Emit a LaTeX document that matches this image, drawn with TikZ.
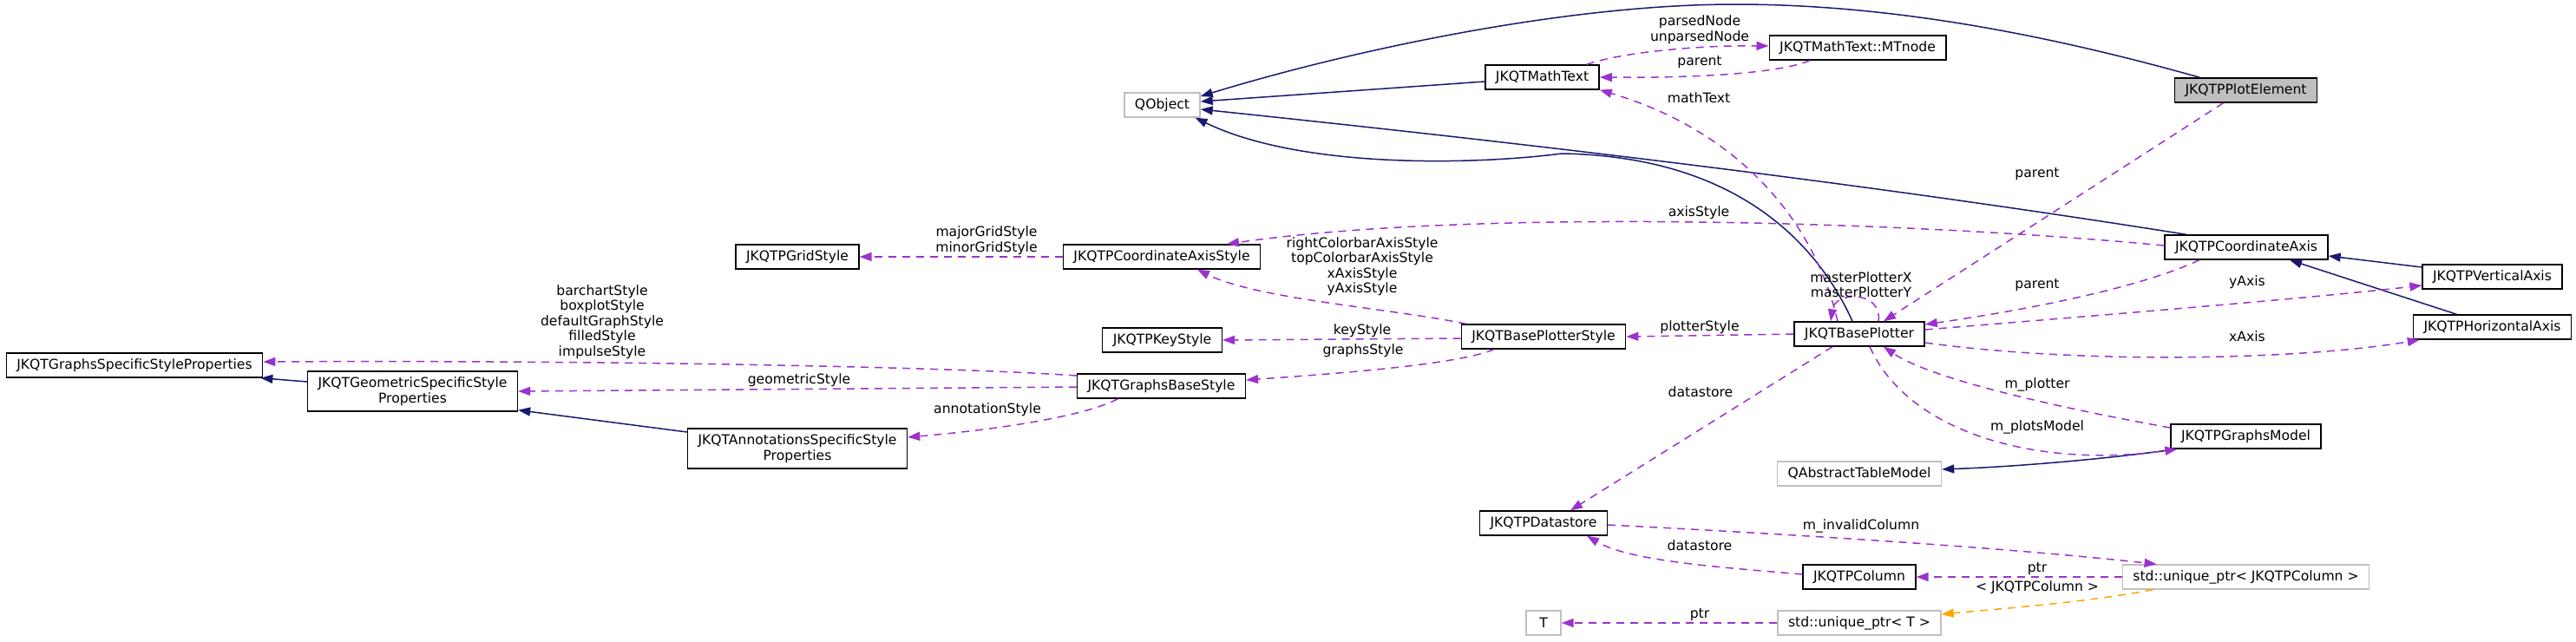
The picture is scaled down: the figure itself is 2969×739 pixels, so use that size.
\documentclass[tikz,border=0pt]{standalone}
\usepackage{fontspec}
\setmainfont{DejaVu Sans}
\usepackage{xcolor}
\usepackage{tikz}
\usetikzlibrary{arrows.meta}

\definecolor{inhcol}{HTML}{191970}
\definecolor{usecol}{HTML}{9A32CD}
\definecolor{tplcol}{HTML}{FFA500}
\definecolor{extcol}{HTML}{BFBFBF}

\tikzset{
  cls/.style={draw=black, line width=1.4pt, fill=white, inner xsep=12pt, inner ysep=0pt,
    minimum height=28pt, align=center, font=\fontsize{15.6}{17.5}\selectfont},
  extcls/.style={cls, draw=extcol},
  curcls/.style={cls, fill=extcol},
  lbl/.style={inner sep=0pt, align=center, font=\fontsize{15.6}{17.5}\selectfont},
  inh/.style={draw=inhcol, line width=1.5pt, -{Triangle[length=14pt,width=10pt]}},
  usg/.style={draw=usecol, line width=1.5pt, dash pattern=on 9pt off 7pt,
    -{Triangle[length=14pt,width=10pt]}},
  tpl/.style={usg, draw=tplcol},
}

\begin{document}
\begin{tikzpicture}[x=1pt, y=1pt]
        \useasboundingbox (0,0) rectangle (2969,-739);
        % classes
        \node[extcls] (QO) at (1339.5,-121) {QObject};
        \node[cls] (MT) at (1777.5,-89) {JKQTMathText};
        \node[cls] (MTn) at (2141,-55) {JKQTMathText::MTnode};
        \node[curcls] (PE) at (2588.5,-104) {JKQTPPlotElement};
        \node[cls] (GS) at (919,-296) {JKQTPGridStyle};
        \node[cls] (CAS) at (1339,-296) {JKQTPCoordinateAxisStyle};
        \node[cls] (KS) at (1339.5,-392) {JKQTPKeyStyle};
        \node[cls] (BPS) at (1779,-388) {JKQTBasePlotterStyle};
        \node[cls] (GBS) at (1338.5,-445) {JKQTGraphsBaseStyle};
        \node[cls] (BP) at (2143,-385) {JKQTBasePlotter};
        \node[cls] (CA) at (2589,-285) {JKQTPCoordinateAxis};
        \node[cls] (VA) at (2872.5,-319) {JKQTPVerticalAxis};
        \node[cls] (HA) at (2872.5,-377) {JKQTPHorizontalAxis};
        \node[cls] (GM) at (2588.5,-503) {JKQTPGraphsModel};
        \node[extcls] (QATM) at (2143,-546) {QAbstractTableModel};
        \node[cls] (DS) at (1779,-603) {JKQTPDatastore};
        \node[cls] (COL) at (2143,-665) {JKQTPColumn};
        \node[extcls] (UPC) at (2588.5,-665) {std::unique\_ptr< JKQTPColumn >};
        \node[extcls, minimum width=40pt] (T) at (1779,-718) {T};
        \node[extcls] (UPT) at (2143,-718) {std::unique\_ptr< T >};
        \node[cls] (GSSP) at (155,-421) {JKQTGraphsSpecificStyleProperties};
        \node[cls, minimum height=46pt] (GeoSSP) at (475.5,-451) {JKQTGeometricSpecificStyle\\Properties};
        \node[cls, minimum height=46pt] (ASSP) at (919,-517) {JKQTAnnotationsSpecificStyle\\Properties};

        % inheritance
        \draw[inh] ([xshift=-53pt]PE.north) .. controls (2360,-40) and (2180,-5) .. (2000,-5)
          .. controls (1800,-5) and (1550,-60) .. ([yshift=10pt]QO.east);
        \draw[inh] ([yshift=-5pt]MT.west) -- ([yshift=4pt]QO.east);
        \draw[inh] ([xshift=-69pt]CA.north) .. controls (2140,-210) and (1766,-166) .. ([yshift=-5pt]QO.east);
        \draw[inh] ([xshift=-8pt]BP.north) .. controls (2090,-270) and (1990,-180) .. (1800,-177)
          .. controls (1700,-190) and (1500,-195) .. ([xshift=38pt]QO.south);
        \draw[inh] ([xshift=7pt]GM.south west) .. controls (2420,-530) and (2320,-538) .. ([yshift=5pt]QATM.east);
        \draw[inh] ([yshift=11pt]VA.west) -- ([yshift=-10pt]CA.east);
        \draw[inh] ([xshift=-41pt]HA.north) -- ([xshift=50pt]CA.south);
        \draw[inh] ([yshift=11pt]GeoSSP.west) -- ([xshift=-3pt]GSSP.south east);
        \draw[inh] ([yshift=19pt]ASSP.west) -- ([yshift=2pt]GeoSSP.south east);

        % usage
        \draw[usg] ([xshift=51pt]MT.north) .. controls (1870,-60) and (1960,-52) .. ([yshift=2pt]MTn.west);
        \draw[usg] ([xshift=-55pt]MTn.south) .. controls (2050,-85) and (1950,-90) .. (MT.east);
        \draw[usg] ([xshift=-25pt]BP.north) .. controls (2090,-250) and (2000,-150) .. (MT.south east);
        \draw[usg] ([xshift=-26pt]PE.south) -- ([xshift=28pt]BP.north);
        \draw[usg] ([xshift=22pt]BP.north) .. controls (2170,-335) and (2115,-335) .. ([xshift=-33pt]BP.north);
        \draw[usg] ([xshift=-54pt]CA.south) .. controls (2470,-330) and (2350,-355) .. ([yshift=11pt]BP.east);
        \draw[usg] ([yshift=5pt]BP.east) .. controls (2400,-365) and (2650,-345) .. ([yshift=-10pt]VA.west);
        \draw[usg] ([yshift=-10pt]BP.east) .. controls (2400,-420) and (2650,-415) .. ([xshift=8pt]HA.south west);
        \draw[usg] ([yshift=10pt]GM.west) .. controls (2400,-475) and (2230,-440) .. ([xshift=28pt]BP.south);
        \draw[usg] ([xshift=12pt]BP.south) .. controls (2200,-500) and (2350,-540) .. ([xshift=8pt]GM.south west);
        \draw[usg] ([xshift=-31pt]BP.south) -- ([xshift=31pt]DS.north);
        \draw[usg] (BP.west) -- (BPS.east);
        \draw[usg] ([xshift=-89pt]BPS.north) .. controls (1600,-355) and (1450,-345) .. ([xshift=41pt]CAS.south);
        \draw[usg] ([yshift=2pt]CA.west) .. controls (2200,-255) and (1700,-240) .. ([xshift=75pt]CAS.north);
        \draw[usg] (CAS.west) -- (GS.east);
        \draw[usg] ([yshift=-2pt]BPS.west) -- (KS.east);
        \draw[usg] ([xshift=-57pt]BPS.south) .. controls (1680,-420) and (1550,-430) .. ([yshift=7pt]GBS.east);
        \draw[usg] ([yshift=12pt]GBS.west) .. controls (1100,-423) and (700,-415) .. ([yshift=4pt]GSSP.east);
        \draw[usg] ([yshift=-1pt]GBS.west) -- (GeoSSP.east);
        \draw[usg] ([xshift=-50pt]GBS.south) .. controls (1250,-480) and (1150,-495) .. ([yshift=13pt]ASSP.east);
        \draw[usg] ([yshift=-2pt]DS.east) .. controls (2050,-615) and (2300,-630) .. ([xshift=-103pt]UPC.north);
        \draw[usg] ([yshift=3pt]COL.west) .. controls (2000,-655) and (1880,-648) .. ([xshift=50pt]DS.south);
        \draw[usg] (UPC.west) -- (COL.east);
        \draw[usg] (UPT.west) -- (T.east);
        % template instance
        \draw[tpl] ([xshift=-107pt]UPC.south) .. controls (2400,-695) and (2300,-702) .. ([yshift=10pt]UPT.east);

        % edge labels
        \node[lbl] (lNodes) at (1959,-34) {parsedNode\\unparsedNode};
        \node[lbl] (lParentMT) at (1959,-72) {parent};
        \node[lbl] (lMathText) at (1958,-113) {mathText};
        \node[lbl] (lParentPE) at (2348,-201) {parent};
        \node[lbl] (lMaster) at (2145,-328) {masterPlotterX\\masterPlotterY};
        \node[lbl] (lParentCA) at (2348,-329) {parent};
        \node[lbl] (lYAxis) at (2590,-325) {yAxis};
        \node[lbl] (lXAxis) at (2590,-388) {xAxis};
        \node[lbl] (lPlotter) at (2348,-443) {m\_plotter};
        \node[lbl] (lPlotsModel) at (2348,-492) {m\_plotsModel};
        \node[lbl] (lStoreBP) at (1960,-452) {datastore};
        \node[lbl] (lPlotterStyle) at (1959,-377) {plotterStyle};
        \node[lbl] (lAxisStyles) at (1570,-307) {rightColorbarAxisStyle\\topColorbarAxisStyle\\xAxisStyle\\yAxisStyle};
        \node[lbl] (lAxisStyle) at (1958,-245) {axisStyle};
        \node[lbl] (lGrid) at (1137,-277) {majorGridStyle\\minorGridStyle};
        \node[lbl] (lKey) at (1570,-381) {keyStyle};
        \node[lbl] (lGraphs) at (1571,-404) {graphsStyle};
        \node[lbl] (lGraphStyles) at (694,-371) {barchartStyle\\boxplotStyle\\defaultGraphStyle\\filledStyle\\impulseStyle};
        \node[lbl] (lGeo) at (921,-438) {geometricStyle};
        \node[lbl] (lAnno) at (1138,-472) {annotationStyle};
        \node[lbl] (lInvalid) at (2145,-606) {m\_invalidColumn};
        \node[lbl] (lStoreCol) at (1959,-629) {datastore};
        \node[lbl] (lPtrCol) at (2348,-656) {ptr};
        \node[lbl] (lTplArg) at (2348,-677) {< JKQTPColumn >};
        \node[lbl] (lPtrT) at (1959,-709) {ptr};
      \end{tikzpicture}
\end{document}
